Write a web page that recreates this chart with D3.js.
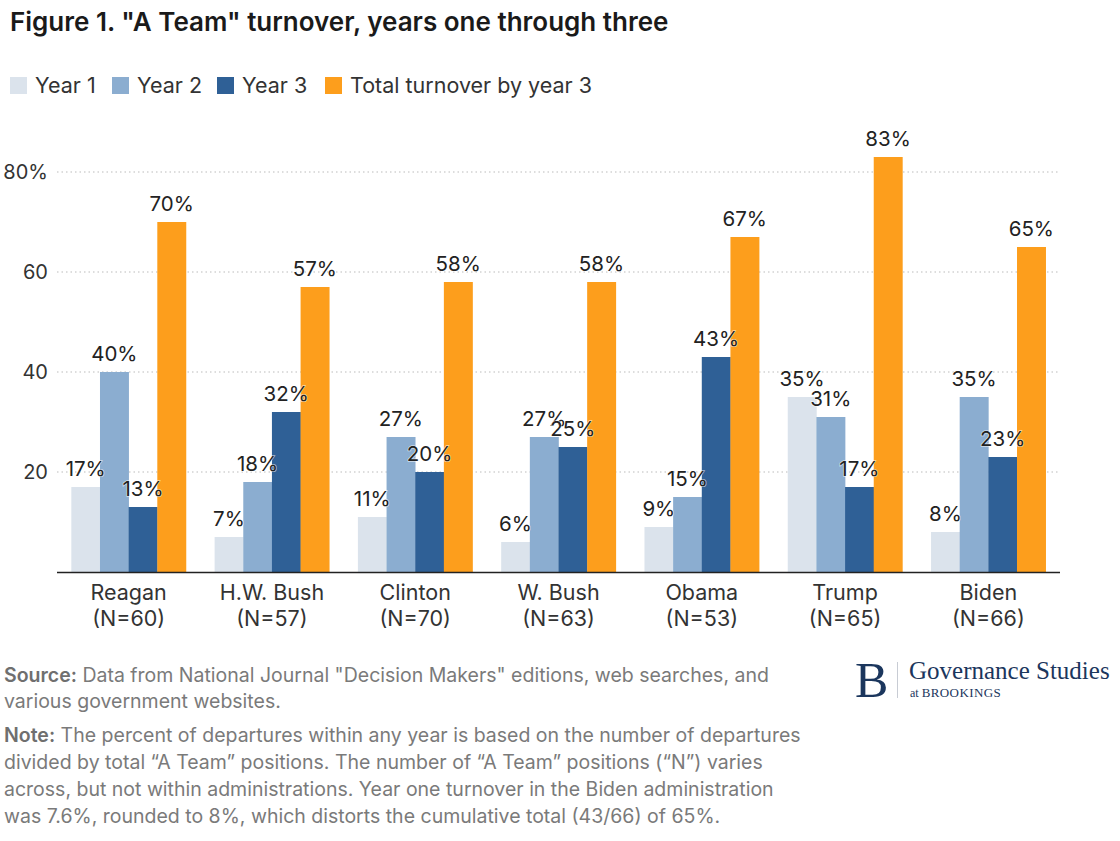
<!DOCTYPE html>
<html><head><meta charset="utf-8">
<script src="https://cdn.jsdelivr.net/npm/d3@7"></script>
<style>
body{margin:0;background:#fff;}
svg{display:block;font-family:Inter,"Noto Sans",sans-serif;}
</style></head><body>
<svg id="c" width="1120" height="841"></svg>
<script>
const categories = ["Reagan","H.W. Bush","Clinton","W. Bush","Obama","Trump","Biden"];
const nLabels = ["(N=60)","(N=57)","(N=70)","(N=63)","(N=53)","(N=65)","(N=66)"];
const seriesNames = ["Year 1","Year 2","Year 3","Total turnover by year 3"];
const year1 = [17,7,11,6,9,35,8];
const year2 = [40,18,27,27,15,31,35];
const year3 = [13,32,20,25,43,17,23];
const total = [70,57,58,58,67,83,65];
const yTicks = [20,40,60,80];
const colors = ["#dbe3ec","#8badd0","#2f6096","#fd9e1c"];

const svg = d3.select("#c");
const series = [year1,year2,year3,total];

svg.append("text").attr("x",10).attr("y",31).attr("font-size",26).attr("font-weight",600)
  .attr("fill","#1a1a1a").text('Figure 1. "A Team" turnover, years one through three');

// legend
const legX = [10,112,217,325];
seriesNames.forEach((s,i)=>{
  const g = svg.append("g").attr("transform",`translate(${legX[i]},77)`);
  g.append("rect").attr("width",17).attr("height",17).attr("fill",colors[i]);
  g.append("text").attr("x",25).attr("y",16).attr("font-size",21.5).attr("fill","#333").text(s);
});

const x0 = d3.scaleBand().domain(categories).range([57,1060]).paddingInner(0.2).paddingOuter(0.1);
const x1 = d3.scaleBand().domain(d3.range(4)).range([0,x0.bandwidth()]);
const y = d3.scaleLinear().domain([0,80]).range([572,172]);

// gridlines
svg.append("g").selectAll("line").data(yTicks).join("line")
  .attr("x1",57).attr("x2",1060).attr("y1",d=>y(d)).attr("y2",d=>y(d))
  .attr("stroke","#bbb").attr("stroke-width",1).attr("stroke-dasharray","1.5,3");

const yAxis = svg.append("g").attr("transform","translate(48,0)")
  .call(d3.axisLeft(y).tickValues(yTicks).tickSize(0).tickPadding(0).tickFormat(d=>d===80?"80%":d));
yAxis.select(".domain").remove();
yAxis.selectAll("text").attr("font-size",20).attr("fill","#333").attr("font-family","Inter,'Noto Sans',sans-serif");

// bars
const groups = svg.append("g").selectAll("g").data(categories).join("g")
  .attr("transform",d=>`translate(${x0(d)},0)`);
groups.each(function(c,ci){
  const g = d3.select(this);
  series.forEach((s,si)=>{
    g.append("rect").attr("x",x1(si)).attr("width",x1.bandwidth()+0.3)
      .attr("y",y(s[ci])).attr("height",y(0)-y(s[ci])).attr("fill",colors[si]);
  });
});
groups.each(function(c,ci){
  const g = d3.select(this);
  series.forEach((s,si)=>{
    g.append("text").attr("x",x1(si)+x1.bandwidth()/2).attr("y",y(s[ci])-11)
      .attr("text-anchor","middle").attr("font-size",20.5).attr("fill","#222")
      .attr("stroke","rgba(255,255,255,0.6)").attr("stroke-width",1.5).attr("paint-order","stroke")
      .text(s[ci]+"%");
  });
});

// baseline
svg.append("line").attr("x1",57).attr("x2",1060).attr("y1",572.5).attr("y2",572.5)
  .attr("stroke","#222").attr("stroke-width",1.3);

// x labels
const xl = svg.append("g").selectAll("g").data(categories).join("g")
  .attr("transform",d=>`translate(${x0(d)+x0.bandwidth()/2},0)`);
xl.append("text").attr("y",600).attr("text-anchor","middle").attr("font-size",21.5).attr("fill","#333").text(d=>d);
xl.append("text").attr("y",626).attr("text-anchor","middle").attr("font-size",21.5).attr("fill","#333").text((d,i)=>nLabels[i]);

// footer
const foot = [
  {y:682, b:"Source:", t:' Data from National Journal "Decision Makers" editions, web searches, and'},
  {y:708, b:"", t:"various government websites."},
  {y:742, b:"Note:", t:" The percent of departures within any year is based on the number of departures"},
  {y:769, b:"", t:"divided by total \u201cA Team\u201d positions. The number of \u201cA Team\u201d positions (\u201cN\u201d) varies"},
  {y:796, b:"", t:"across, but not within administrations. Year one turnover in the Biden administration"},
  {y:823, b:"", t:"was 7.6%, rounded to 8%, which distorts the cumulative total (43/66) of 65%."}
];
foot.forEach(f=>{
  const t = svg.append("text").attr("x",4).attr("y",f.y).attr("font-size",19.5).attr("fill","#7a7a7a");
  if(f.b) t.append("tspan").attr("font-weight",600).attr("fill","#6f6f6f").text(f.b);
  t.append("tspan").text(f.t);
});

// logo
const navy = "#1b365d";
svg.append("text").attr("x",855).attr("y",697).attr("font-family","'Liberation Serif','DejaVu Serif',serif")
  .attr("font-size",50).attr("fill",navy).text("B");
svg.append("line").attr("x1",897.5).attr("x2",897.5).attr("y1",662).attr("y2",698).attr("stroke","#c8ccd4").attr("stroke-width",1);
svg.append("text").attr("x",909).attr("y",679).attr("font-family","'Liberation Serif','DejaVu Serif',serif")
  .attr("font-size",25).attr("fill",navy).text("Governance Studies");
const at = svg.append("text").attr("x",910).attr("y",697).attr("font-family","'Liberation Serif','DejaVu Serif',serif")
  .attr("fill",navy);
at.append("tspan").attr("font-size",12).text("at ");
at.append("tspan").attr("font-size",13).attr("letter-spacing",0.4).text("BROOKINGS");
</script>
</body></html>
